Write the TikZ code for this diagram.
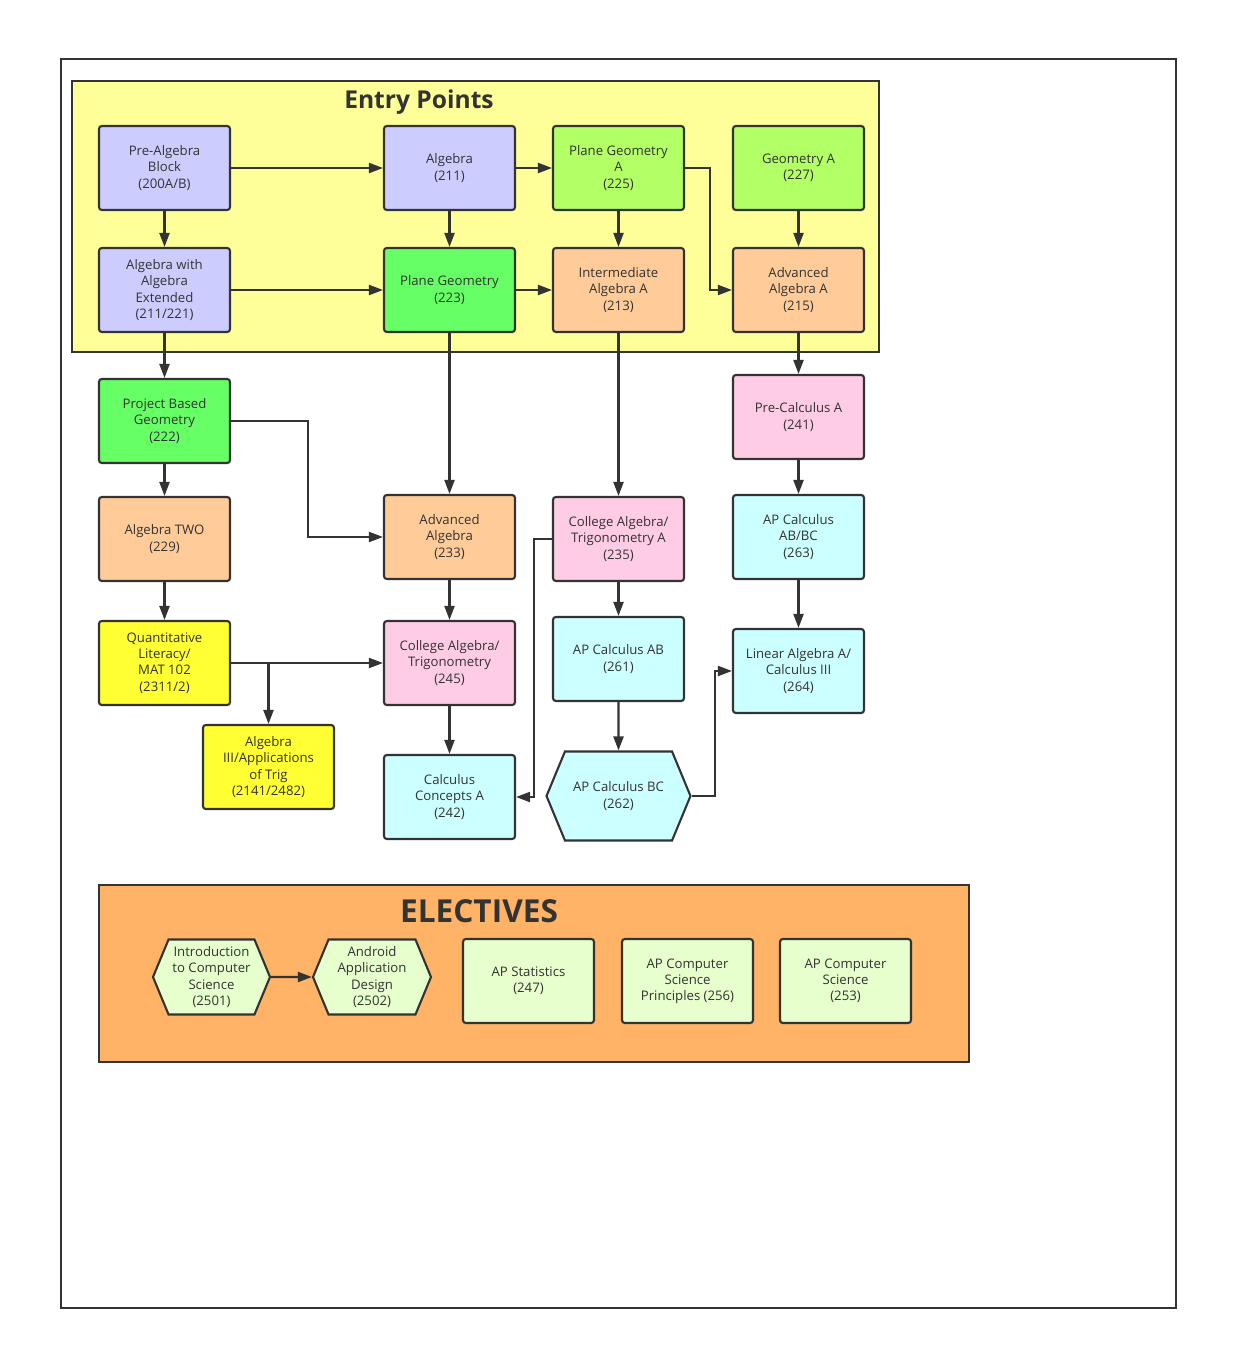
\documentclass[tikz,border=0pt]{standalone}
\usepackage{fontspec}
\setmainfont{Open Sans}
\usepackage{xcolor}
\usepackage{tikz}
\usetikzlibrary{
    arrows.meta,
    shapes.symbols
}

\definecolor{lineC}{HTML}{333333}
\definecolor{entryC}{HTML}{FFFF99}
\definecolor{electC}{HTML}{FFB366}
\definecolor{lavC}{HTML}{CCCCFF}
\definecolor{lgreenC}{HTML}{B3FF66}
\definecolor{greenC}{HTML}{66FF66}
\definecolor{peachC}{HTML}{FFCC99}
\definecolor{pinkC}{HTML}{FFCCE6}
\definecolor{cyanC}{HTML}{CCFFFF}
\definecolor{yellowC}{HTML}{FFFF33}
\definecolor{paleC}{HTML}{E6FFCC}

\begin{document}
\begin{tikzpicture}[x=0.02cm,y=-0.02cm,color=lineC,line width=1.2pt,>={Triangle[length=2.8mm,width=2mm]}]
    \tikzstyle{course}=[draw, rectangle, rounded corners=1.6pt, align=center, minimum width=2.62cm, minimum height=1.68cm, inner sep=1pt, font=\fontsize{7.5}{9.2}\selectfont]
    \tikzstyle{hexa}=[course, shape=signal, signal to=east and west, signal pointer angle=135, sharp corners]
    \tikzstyle{title}=[font=\bfseries\fontsize{14}{16}\selectfont]
    \useasboundingbox (0,0) rectangle (1238,1371);
    \draw (61,59) rectangle (1176,1308);
    \draw [fill=entryC] (72,81) rectangle (879,352);
    \draw [fill=electC] (99,885) rectangle (969,1062);
    \node [title] (entry) at (419,102) {Entry Points};
    \node [title, font=\bfseries\fontsize{18}{20}\selectfont] (elect) at (479,911) {ELECTIVES};

    % entry points
    \node [course, fill=lavC] (pre) at (164.5,168) {Pre-Algebra\\Block\\(200A/B)};
    \node [course, fill=lavC] (alg) at (449.5,168) {Algebra\\(211)};
    \node [course, fill=lgreenC] (pga) at (618.5,168) {Plane Geometry\\A\\(225)};
    \node [course, fill=lgreenC] (geoa) at (798.5,168) {Geometry A\\(227)};
    \node [course, fill=lavC] (alge) at (164.5,290) {Algebra with\\Algebra\\Extended\\(211/221)};
    \node [course, fill=greenC] (pg) at (449.5,290) {Plane Geometry\\(223)};
    \node [course, fill=peachC] (ialg) at (618.5,290) {Intermediate\\Algebra A\\(213)};
    \node [course, fill=peachC] (aalga) at (798.5,290) {Advanced\\Algebra A\\(215)};

    % main sequence
    \node [course, fill=greenC] (pbg) at (164.5,421) {Project Based\\Geometry\\(222)};
    \node [course, fill=pinkC] (precalc) at (798.5,417) {Pre-Calculus A\\(241)};
    \node [course, fill=peachC] (alg2) at (164.5,539) {Algebra TWO\\(229)};
    \node [course, fill=peachC] (aalg) at (449.5,537) {Advanced\\Algebra\\(233)};
    \node [course, fill=pinkC] (cat) at (618.5,539) {College Algebra/\\Trigonometry A\\(235)};
    \node [course, fill=cyanC] (apabbc) at (798.5,537) {AP Calculus\\AB/BC\\(263)};
    \node [course, fill=yellowC] (ql) at (164.5,663) {Quantitative\\Literacy/\\MAT 102\\(2311/2)};
    \node [course, fill=pinkC] (cat245) at (449.5,663) {College Algebra/\\Trigonometry\\(245)};
    \node [course, fill=cyanC] (apab) at (618.5,659) {AP Calculus AB\\(261)};
    \node [course, fill=cyanC] (linalg) at (798.5,671) {Linear Algebra A/\\Calculus III\\(264)};
    \node [course, fill=yellowC] (alg3) at (268.5,767) {Algebra\\III/Applications\\of Trig\\(2141/2482)};
    \node [course, fill=cyanC] (cca) at (449.5,797) {Calculus\\Concepts A\\(242)};
    \node [hexa, fill=cyanC, minimum width=2.88cm, minimum height=1.78cm] (apbc) at (618.5,796) {AP Calculus BC\\(262)};

    % electives
    \node [hexa, fill=paleC, minimum width=2.34cm, minimum height=1.5cm] (intro) at (211.5,977) {Introduction\\to Computer\\Science\\(2501)};
    \node [hexa, fill=paleC, minimum width=2.36cm, minimum height=1.5cm] (android) at (372,977) {Android\\Application\\Design\\(2502)};
    \node [course, fill=paleC] (apstat) at (528.5,981) {AP Statistics\\(247)};
    \node [course, fill=paleC] (apcsp) at (687.5,981) {AP Computer\\Science\\Principles (256)};
    \node [course, fill=paleC] (apcs) at (845.5,981) {AP Computer\\Science\\(253)};

    \coordinate (qlsplit) at (268.5,663);

    \draw [->] (pre) -- (alg);
    \draw [->] (alg) -- (pga);
    \draw [->] (pre) -- (alge);
    \draw [->] (alg) -- (pg);
    \draw [->] (pga) -- (ialg);
    \draw [->] (geoa) -- (aalga);
    \draw [->] (pga.east) -- ++(25,0) |- (aalga);
    \draw [->] (alge) -- (pg);
    \draw [->] (pg) -- (ialg);
    \draw [->] (alge) -- (pbg);
    \draw [->] (pg) -- (aalg);
    \draw [->] (ialg) -- (cat);
    \draw [->] (aalga) -- (precalc);
    \draw [->] (pbg.east) -- ++(77,0) |- (aalg);
    \draw [->] (pbg) -- (alg2);
    \draw [->] (aalg) -- (cat245);
    \draw [->] (cat) -- (apab);
    \draw [->] (precalc) -- (apabbc);
    \draw [->] (alg2) -- (ql);
    \draw [->] (apabbc) -- (linalg);
    \draw [->] (ql) -- (cat245);
    \draw [->] (qlsplit) -- (alg3);
    \draw [->] (cat245) -- (cca);
    \draw [->] (cat.west) -- ++(-18,0) |- (cca);
    \draw [->] (apab) -- (apbc);
    \draw [->] (apbc.east) -- ++(23,0) |- (linalg);
    \draw [->] (intro) -- (android);
\end{tikzpicture}
\end{document}
